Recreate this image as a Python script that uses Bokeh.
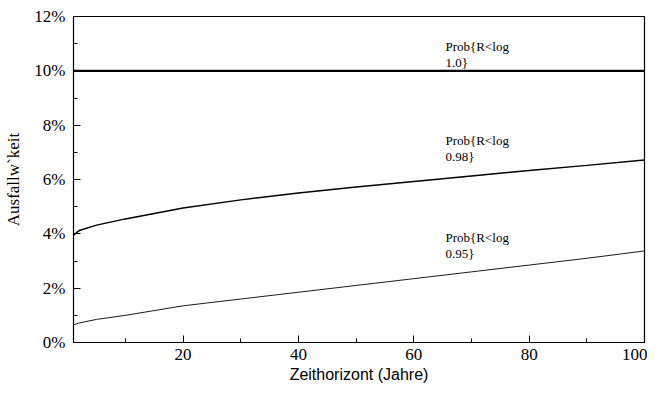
from bokeh.plotting import figure
from bokeh.models import PrintfTickFormatter, FixedTicker, Range1d
from bokeh.core.properties import value
from bokeh.embed import file_html
from bokeh.resources import INLINE

years = [1, 2, 5, 10, 20, 30, 40, 50, 60, 70, 80, 90, 100]
p100 = [10.0] * len(years)
p098 = [3.95, 4.12, 4.32, 4.55, 4.95, 5.25, 5.5, 5.72, 5.93, 6.13, 6.33, 6.52, 6.72]
p095 = [0.65, 0.72, 0.85, 1.0, 1.35, 1.6, 1.85, 2.1, 2.35, 2.6, 2.85, 3.1, 3.37]

label_text = ["Prob{R<log\n1.0}", "Prob{R<log\n0.98}", "Prob{R<log\n0.95}"]
label_x = [65.5, 65.5, 65.5]
label_y = [11.17, 7.72, 4.15]

x_ticks = [20, 40, 60, 80, 100]
x_minor = [10, 30, 50, 70, 90]
y_ticks = [0, 2, 4, 6, 8, 10, 12]

p = figure(width=647, height=379, output_backend="svg", toolbar_location=None,
           x_range=Range1d(1, 100), y_range=Range1d(0, 12),
           min_border_left=73, min_border_right=3, min_border_top=16, min_border_bottom=37)
p.frame_width = 571
p.frame_height = 326
p.grid.visible = False
p.outline_line_color = "black"
p.outline_line_width = 1.2
p.background_fill_color = "white"
p.border_fill_color = "white"

p.line(years, p100, line_color="black", line_width=2.2)
p.line(years, p098, line_color="black", line_width=1.5)
p.line(years, p095, line_color="black", line_width=0.9)

p.text(x=label_x, y=label_y, text=label_text, text_font=value("Liberation Serif"),
       text_font_size="13px", text_baseline="top", text_align="left",
       text_line_height=1.05, text_color="black")

xa = p.xaxis[0]
xa.ticker = FixedTicker(ticks=x_ticks, minor_ticks=x_minor)
xa.axis_label = "Zeithorizont (Jahre)"
xa.axis_label_text_font = "Liberation Sans"
xa.axis_label_text_font_style = "normal"
xa.axis_label_text_font_size = "16px"
xa.axis_label_text_color = "black"
xa.axis_label_standoff = 3
xa.major_label_text_font = "Liberation Serif"
xa.major_label_text_font_size = "17px"
xa.major_label_text_color = "black"
xa.major_tick_in = 7
xa.major_tick_out = 0
xa.minor_tick_in = 4
xa.minor_tick_out = 0
xa.axis_line_color = "black"
xa.major_tick_line_color = "black"
xa.minor_tick_line_color = "black"
xa.major_label_standoff = 6

ya = p.yaxis[0]
ya.ticker = FixedTicker(ticks=y_ticks, minor_ticks=[1, 3, 5, 7, 9, 11])
ya.formatter = PrintfTickFormatter(format="%d%%")
ya.axis_label = "Ausfallw`keit"
ya.axis_label_text_font = "Liberation Serif"
ya.axis_label_text_font_style = "normal"
ya.axis_label_text_font_size = "17px"
ya.axis_label_text_color = "black"
ya.axis_label_standoff = 8
ya.major_label_text_font = "Liberation Serif"
ya.major_label_text_font_size = "17px"
ya.major_label_text_color = "black"
ya.major_tick_in = 7
ya.major_tick_out = 0
ya.minor_tick_in = 4
ya.minor_tick_out = 0
ya.axis_line_color = "black"
ya.major_tick_line_color = "black"
ya.minor_tick_line_color = "black"
ya.major_label_standoff = 8

open("out.html", "w").write(file_html(p, INLINE))
